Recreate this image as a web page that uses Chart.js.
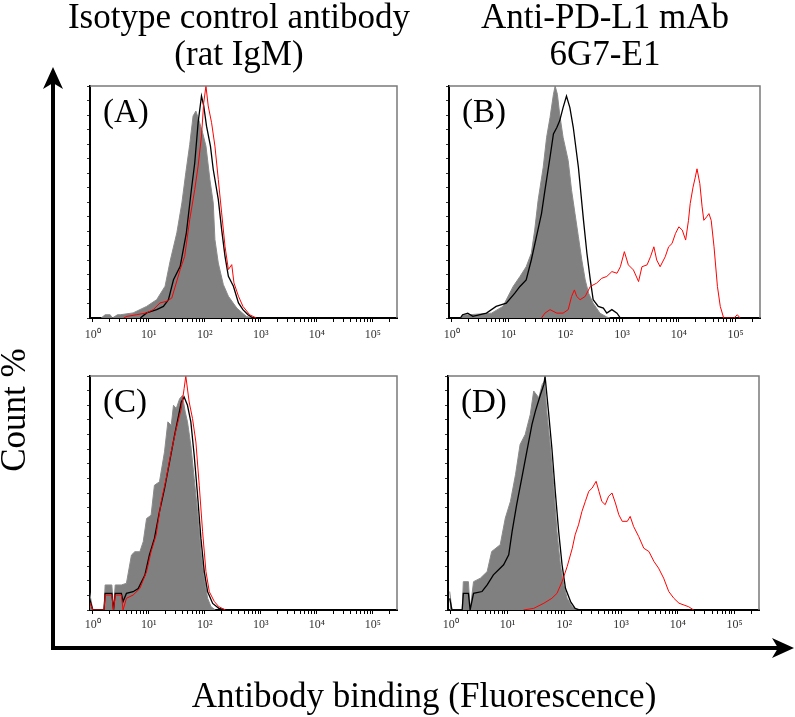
<!DOCTYPE html>
<html><head><meta charset="utf-8">
<script src="https://cdn.jsdelivr.net/npm/chart.js@4.4.1/dist/chart.umd.min.js"></script>
<style>
html,body{margin:0;padding:0;background:#fff;}
#wrap{position:relative;width:795px;height:717px;overflow:hidden;background:#fff;}
canvas{position:absolute;}
svg{position:absolute;left:0;top:0;pointer-events:none;}
</style></head><body>
<div id="wrap">
<canvas id="cA" width="345" height="272" style="left:60px;top:76px"></canvas>
<canvas id="cB" width="345" height="272" style="left:420px;top:76px"></canvas>
<canvas id="cC" width="345" height="272" style="left:60px;top:366px"></canvas>
<canvas id="cD" width="345" height="272" style="left:420px;top:366px"></canvas>
<svg width="795" height="717" font-family="'Liberation Serif','Times New Roman',serif" font-size="35" fill="#000">
  <text x="239" y="28" text-anchor="middle">Isotype control antibody</text>
  <text x="239" y="65" text-anchor="middle">(rat IgM)</text>
  <text x="605" y="28" text-anchor="middle">Anti-PD-L1 mAb</text>
  <text x="605" y="65" text-anchor="middle">6G7-E1</text>
  <text transform="translate(25,410) rotate(-90)" text-anchor="middle">Count %</text>
  <text x="424" y="707" text-anchor="middle">Antibody binding (Fluorescence)</text>
  <line x1="53" y1="650" x2="53" y2="82" stroke="#000" stroke-width="4"/>
  <path d="M53,67 L63,89 L53,83 L43,89 Z"/>
  <line x1="51" y1="648" x2="780" y2="648" stroke="#000" stroke-width="4"/>
  <path d="M794,648 L772,638 L778,648 L772,658 Z"/>
</svg>
</div>
<script>
// ---------- axis / tick definitions ----------
const xTickDecades = [0, 1, 2, 3, 4, 5];
const xTickLabels = ['10\u2070', '10\u00b9', '10\u00b2', '10\u00b3', '10\u2074', '10\u2075'];
const xMinorMultipliers = [2, 3, 4, 5, 6, 7, 8, 9];
const xRange = [-0.05, 5.43];          // log10 fluorescence
const yTickValues = [0, 6.25, 12.5, 18.75, 25, 31.25, 37.5, 43.75, 50, 56.25, 62.5, 68.75, 75, 81.25, 87.5, 93.75, 100];
const panelLetters = ['(A)', '(B)', '(C)', '(D)'];

// ---------- histogram data: [log10 fluorescence, count %] ----------
// Panel A: isotype control, cells 1
const A_gray = [[0.15,0],[0.22,1.4],[0.31,1.4],[0.35,0],[0.44,1.4],[0.49,1.4],[0.72,2.2],[0.96,5.0],[1.14,7.9],[1.29,13.7],[1.38,24.5],[1.50,36.7],[1.59,49.6],[1.66,62.6],[1.73,74.8],[1.79,87.1],[1.84,89.2],[1.89,85.6],[1.96,79.9],[2.02,74.1],[2.09,59.7],[2.15,49.6],[2.18,33.8],[2.24,23.7],[2.33,14.4],[2.42,9.4],[2.57,4.3],[2.74,0.7],[2.86,0]];
const A_black = [[0.85,0],[0.96,2.2],[1.14,3.6],[1.26,5.0],[1.35,7.9],[1.44,16.5],[1.56,22.3],[1.67,36.7],[1.76,55.4],[1.82,66.9],[1.88,84.2],[1.94,95.7],[1.98,91.4],[2.03,82.7],[2.10,74.1],[2.15,64.0],[2.24,51.1],[2.30,38.1],[2.36,26.6],[2.42,18.0],[2.51,13.7],[2.60,6.5],[2.68,3.6],[2.77,1.4],[2.86,0]];
const A_red = [[0.55,0],[0.61,0.7],[0.78,1.4],[0.96,2.2],[1.08,3.6],[1.20,6.5],[1.32,7.2],[1.41,8.6],[1.56,20.9],[1.64,26.6],[1.73,42.4],[1.82,55.4],[1.88,65.5],[1.94,78.4],[1.98,92.8],[2.02,100],[2.06,91.4],[2.12,84.2],[2.18,74.1],[2.24,59.7],[2.30,45.3],[2.36,30.9],[2.42,20.9],[2.48,23.0],[2.52,15.1],[2.60,9.4],[2.68,5.0],[2.80,1.4],[2.92,0]];

// Panel B: anti-PD-L1 6G7-E1, cells 1
const B_gray = [[0.15,0],[0.19,1.4],[0.30,1.4],[0.70,2.1],[0.90,5.0],[1.08,13.6],[1.20,17.9],[1.31,22.1],[1.40,27.9],[1.46,37.9],[1.52,50.7],[1.61,65.0],[1.67,77.9],[1.73,86.4],[1.79,96.4],[1.82,100],[1.86,96.4],[1.90,87.9],[1.96,77.9],[2.05,67.9],[2.11,55.0],[2.17,45.0],[2.23,35.0],[2.29,25.0],[2.35,16.4],[2.41,10.7],[2.49,6.4],[2.61,2.1],[2.73,0.4],[2.79,0]];
const B_black = [[0.15,0],[0.19,1.4],[0.28,2.1],[0.37,0.7],[0.61,2.1],[0.78,5.0],[0.96,6.4],[1.11,10.7],[1.20,13.6],[1.31,16.4],[1.40,25.0],[1.49,35.0],[1.58,45.0],[1.64,55.0],[1.73,69.3],[1.79,79.3],[1.85,82.1],[1.90,85.0],[1.96,90.7],[2.02,95.7],[2.08,90.7],[2.14,82.1],[2.23,65.0],[2.32,42.1],[2.38,27.9],[2.44,16.4],[2.49,7.9],[2.58,5.0],[2.67,4.3],[2.73,2.1],[2.82,3.6],[2.91,2.1],[2.97,0]];
const B_red = [[1.58,0],[1.64,2.1],[1.73,3.6],[1.85,2.1],[1.96,2.1],[2.05,3.6],[2.11,9.3],[2.16,12.1],[2.20,9.3],[2.26,7.9],[2.35,9.3],[2.44,13.6],[2.55,15.0],[2.64,17.1],[2.73,17.9],[2.82,20.0],[2.91,19.3],[2.97,22.1],[3.04,28.6],[3.11,22.9],[3.20,20.7],[3.29,15.7],[3.35,22.1],[3.44,22.9],[3.50,26.4],[3.56,30.7],[3.61,25.0],[3.67,22.1],[3.76,26.4],[3.82,30.7],[3.88,32.1],[3.94,36.4],[4.00,39.3],[4.06,37.9],[4.12,33.6],[4.17,42.1],[4.20,49.3],[4.25,56.4],[4.29,60.7],[4.32,64.3],[4.37,57.9],[4.41,47.9],[4.44,42.1],[4.49,43.6],[4.53,45.0],[4.57,42.1],[4.62,30.7],[4.68,13.6],[4.73,5.0],[4.79,0],[4.97,0],[5.03,1.4],[5.08,0]];

// Panel C: isotype control, cells 2
const C_gray = [[-0.06,7.8],[0.0,0],[0.20,0],[0.22,10.7],[0.34,10.7],[0.37,0],[0.40,10.7],[0.51,10.7],[0.60,11.4],[0.69,23.5],[0.75,24.9],[0.84,24.9],[0.90,29.2],[0.96,39.1],[1.04,40.5],[1.10,53.3],[1.19,54.8],[1.28,67.6],[1.34,80.4],[1.40,78.9],[1.44,87.5],[1.49,86.1],[1.55,90.3],[1.60,91.7],[1.65,84.6],[1.69,80.4],[1.75,70.4],[1.81,56.2],[1.87,42.0],[1.93,24.9],[1.99,13.5],[2.05,5.0],[2.11,1.4],[2.19,0]];
const C_black = [[-0.06,5.0],[0.0,0],[0.20,0],[0.22,7.1],[0.34,7.1],[0.37,0],[0.40,7.1],[0.51,7.1],[0.54,3.6],[0.60,7.1],[0.72,7.8],[0.81,9.2],[0.93,14.9],[1.01,23.5],[1.10,30.6],[1.19,42.0],[1.28,51.9],[1.37,63.3],[1.46,74.7],[1.52,81.8],[1.58,88.9],[1.63,91.0],[1.69,87.5],[1.75,80.4],[1.81,66.1],[1.87,49.1],[1.93,30.6],[1.99,16.4],[2.05,7.8],[2.14,2.8],[2.25,0.7],[2.37,0]];
const C_red = [[-0.06,3.6],[0.0,0],[0.20,0],[0.22,6.4],[0.34,6.4],[0.37,0],[0.40,6.4],[0.51,6.4],[0.54,0],[0.60,5.0],[0.72,6.4],[0.84,9.2],[0.96,16.4],[1.04,24.9],[1.13,32.0],[1.22,46.2],[1.31,56.2],[1.40,67.6],[1.49,77.5],[1.58,86.1],[1.63,94.6],[1.66,100],[1.72,88.9],[1.78,81.8],[1.84,71.8],[1.90,53.3],[1.96,33.4],[2.02,16.4],[2.08,7.8],[2.17,3.6],[2.25,1.4],[2.37,0]];

// Panel D: anti-PD-L1 6G7-E1, cells 2
const D_gray = [[-0.02,7.9],[0.02,0],[0.20,0],[0.22,12.1],[0.31,12.1],[0.34,0],[0.40,12.1],[0.52,13.6],[0.64,16.4],[0.72,25.0],[0.87,27.9],[0.96,39.3],[1.05,46.4],[1.14,57.9],[1.22,70.7],[1.31,75.0],[1.40,83.6],[1.46,93.6],[1.55,90.7],[1.61,96.4],[1.65,97.9],[1.69,85.0],[1.75,70.7],[1.81,53.6],[1.87,33.6],[1.93,19.3],[1.99,10.7],[2.05,5.0],[2.14,1.4],[2.22,0]];
const D_black = [[-0.02,5.0],[0.02,0],[0.20,0],[0.22,7.1],[0.31,7.1],[0.34,0],[0.40,7.1],[0.55,7.9],[0.64,10.7],[0.75,15.0],[0.93,19.3],[1.02,23.6],[1.08,33.6],[1.16,45.0],[1.25,56.4],[1.34,67.9],[1.43,79.3],[1.49,85.0],[1.58,92.1],[1.64,96.4],[1.66,100],[1.72,85.0],[1.78,69.3],[1.84,50.7],[1.90,33.6],[1.96,19.3],[2.02,9.3],[2.11,3.6],[2.19,0.7],[2.28,0]];
const D_red = [[1.28,0],[1.46,0.7],[1.64,2.9],[1.78,5.0],[1.87,7.1],[1.96,12.1],[2.05,18.6],[2.14,26.4],[2.19,32.1],[2.25,36.4],[2.31,42.1],[2.37,46.4],[2.43,50.7],[2.49,52.1],[2.56,55.0],[2.61,50.7],[2.66,46.4],[2.72,45.0],[2.78,48.6],[2.84,50.0],[2.90,45.7],[2.96,40.7],[3.02,37.9],[3.11,37.9],[3.16,40.0],[3.22,35.7],[3.31,31.4],[3.40,26.4],[3.49,25.0],[3.58,20.7],[3.66,17.9],[3.75,13.6],[3.84,7.9],[3.93,5.0],[4.02,2.9],[4.11,2.1],[4.19,1.4],[4.28,0]];

// ---------- build ----------
const xTickValues = [];
xTickDecades.forEach(d => {
  xTickValues.push(d);
  xMinorMultipliers.forEach(m => { const v = d + Math.log10(m); if (v <= xRange[1]) xTickValues.push(v); });
});

const serif = '"Liberation Serif", "Times New Roman", serif';

const panelDecor = {
  id: 'panelDecor',
  afterDatasetsDraw(chart, args, opts) {
    const { ctx, chartArea: a } = chart;
    ctx.save();
    ctx.strokeStyle = '#7a7a7a';
    ctx.lineWidth = 1.5;
    ctx.beginPath();
    ctx.moveTo(a.left, a.top);
    ctx.lineTo(a.right, a.top);
    ctx.lineTo(a.right, a.bottom);
    ctx.stroke();
    ctx.fillStyle = '#000';
    ctx.font = '33px ' + serif;
    ctx.textBaseline = 'alphabetic';
    ctx.textAlign = 'left';
    ctx.fillText(opts.letter, a.left + 13, a.top + 36);
    ctx.restore();
  }
};

function toXY(arr) { return arr.map(p => ({ x: p[0], y: p[1] })); }

function makePanel(id, letter, gray, black, red, geo) {
  new Chart(document.getElementById(id), {
    type: 'line',
    data: {
      datasets: [
        { label: 'antibody', data: toXY(red), borderColor: '#ff0000', borderWidth: 1, pointRadius: 0, fill: false, tension: 0, order: 0 },
        { label: 'control', data: toXY(black), borderColor: '#000000', borderWidth: 1.3, pointRadius: 0, fill: false, tension: 0, order: 1 },
        { label: 'unstained', data: toXY(gray), borderColor: '#8a8a8a', backgroundColor: '#808080', borderWidth: 1, pointRadius: 0, fill: 'origin', tension: 0, order: 2 }
      ]
    },
    options: {
      responsive: false,
      animation: false,
      devicePixelRatio: 1,
      layout: { padding: geo.pad },
      plugins: { legend: { display: false }, tooltip: { enabled: false }, panelDecor: { letter } },
      scales: {
        x: {
          type: 'linear', min: xRange[0], max: xRange[1], z: 1,
          border: { display: true, color: '#000', width: 2 },
          grid: { display: true, drawOnChartArea: false, drawTicks: true, tickLength: 4, tickColor: '#000', lineWidth: 1 },
          ticks: {
            autoSkip: false, maxRotation: 0, minRotation: 0, padding: geo.labelPad, color: '#333',
            font: { family: serif, size: 12 },
            callback: (v) => { const i = xTickDecades.indexOf(v); return i >= 0 ? xTickLabels[i] : ''; }
          },
          afterBuildTicks: (s) => { s.ticks = xTickValues.map(v => ({ value: v })); },
          afterFit: (s) => { s.height = geo.xh; }
        },
        y: {
          type: 'linear', min: 0, max: 100, z: 1,
          border: { display: true, color: '#000', width: 2 },
          grid: { display: true, drawOnChartArea: false, drawTicks: true, tickLength: 3, tickColor: '#333', lineWidth: 1 },
          ticks: { display: false },
          afterBuildTicks: (s) => { s.ticks = yTickValues.map(v => ({ value: v })); },
          afterFit: (s) => { s.width = geo.yw; }
        }
      }
    },
    plugins: [panelDecor]
  });
}

makePanel('cA', panelLetters[0], A_gray, A_black, A_red, { pad: { left: 0, top: 10, right: 8, bottom: 0 }, yw: 30, xh: 30, labelPad: 6 });
makePanel('cB', panelLetters[1], B_gray, B_black, B_red, { pad: { left: 0, top: 10, right: 5, bottom: 0 }, yw: 29, xh: 30, labelPad: 6 });
makePanel('cC', panelLetters[2], C_gray, C_black, C_red, { pad: { left: 0, top: 10, right: 8, bottom: 0 }, yw: 30, xh: 28, labelPad: 4 });
makePanel('cD', panelLetters[3], D_gray, D_black, D_red, { pad: { left: 0, top: 10, right: 6, bottom: 0 }, yw: 28, xh: 28, labelPad: 4 });
</script>
</body></html>
